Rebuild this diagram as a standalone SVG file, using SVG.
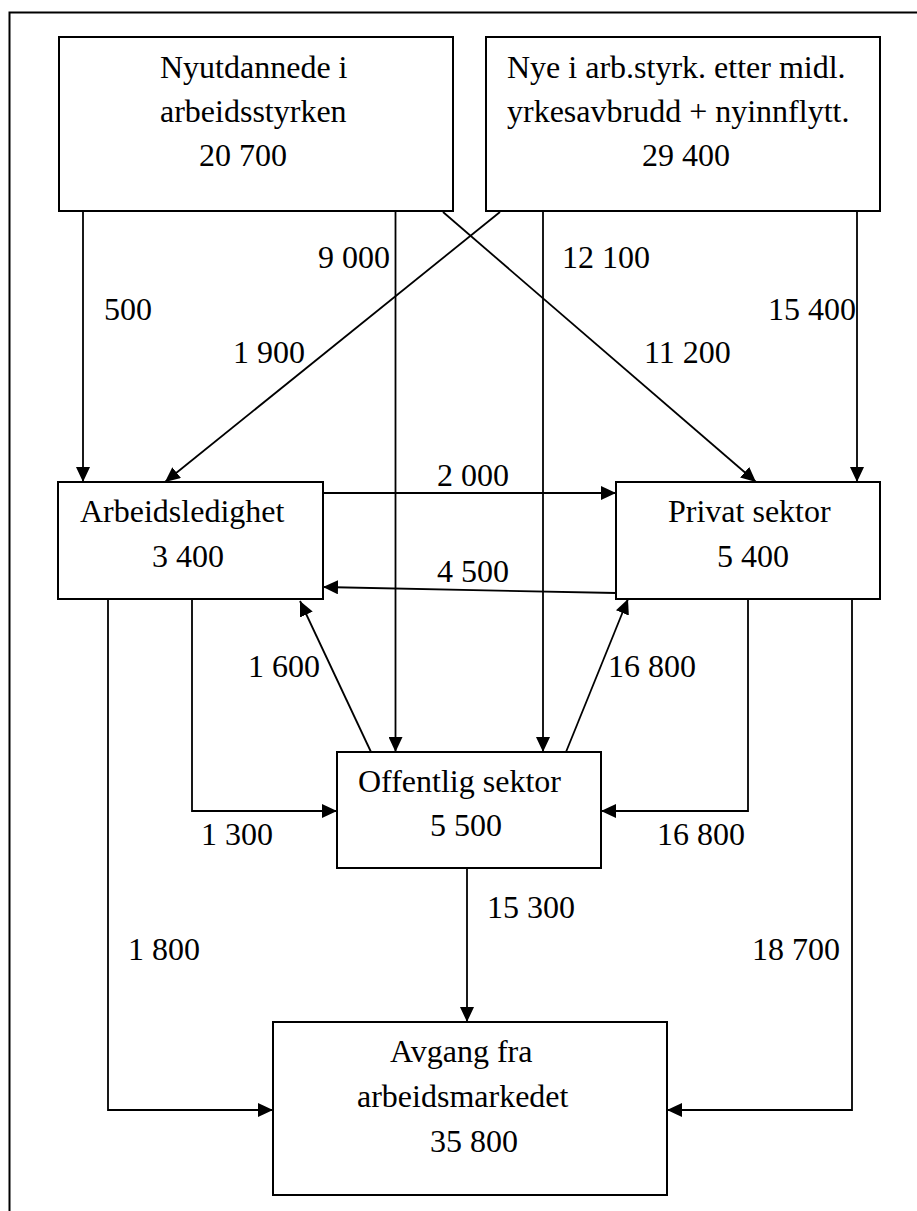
<svg xmlns="http://www.w3.org/2000/svg" width="917" height="1211" viewBox="0 0 917 1211">
<style>
.box{fill:#fff;stroke:#000;stroke-width:2}
.t{font-family:"Liberation Serif","Times New Roman",serif;font-size:32px;fill:#000}
.c{fill:none;stroke:#000;stroke-width:1.8}
</style>
<defs>
<marker id="ah" markerUnits="userSpaceOnUse" markerWidth="15" markerHeight="14" refX="15" refY="7" orient="auto">
<path d="M0,0 L15,7 L0,14 z" fill="#000"/>
</marker>
</defs>
<rect width="917" height="1211" fill="#fff"/>
<path d="M9.5,1211 V12.5 H917" fill="none" stroke="#000" stroke-width="2"/>
<g id="connectors">
<path class="c" d="M83,212 V482" marker-end="url(#ah)"/>
<path class="c" d="M395.5,212 V752" marker-end="url(#ah)"/>
<path class="c" d="M543,212 V752" marker-end="url(#ah)"/>
<path class="c" d="M857,212 V482" marker-end="url(#ah)"/>
<path class="c" d="M500,212 L165,482" marker-end="url(#ah)"/>
<path class="c" d="M443,212 L756,482" marker-end="url(#ah)"/>
<path class="c" d="M323,493 H616" marker-end="url(#ah)"/>
<path class="c" d="M616,593 L323,587" marker-end="url(#ah)"/>
<path class="c" d="M371,752 L300,601" marker-end="url(#ah)"/>
<path class="c" d="M566,752 L628,599" marker-end="url(#ah)"/>
<path class="c" d="M192,599 V811 H337" marker-end="url(#ah)"/>
<path class="c" d="M748,599 V811 H601" marker-end="url(#ah)"/>
<path class="c" d="M108,599 V1110 H273" marker-end="url(#ah)"/>
<path class="c" d="M852,599 V1110 H667" marker-end="url(#ah)"/>
<path class="c" d="M467,868 V1022" marker-end="url(#ah)"/>
<text class="t" x="104" y="320">500</text>
<text class="t" x="318" y="268">9 000</text>
<text class="t" x="562" y="268">12 100</text>
<text class="t" x="768" y="320">15 400</text>
<text class="t" x="233" y="363">1 900</text>
<text class="t" x="644" y="363">11 200</text>
<text class="t" x="437" y="486">2 000</text>
<text class="t" x="437" y="582">4 500</text>
<text class="t" x="248" y="677">1 600</text>
<text class="t" x="608" y="677">16 800</text>
<text class="t" x="201" y="845">1 300</text>
<text class="t" x="657" y="845">16 800</text>
<text class="t" x="487" y="918">15 300</text>
<text class="t" x="128" y="960">1 800</text>
<text class="t" x="752" y="960">18 700</text>
</g>
<g id="nyutdannede">
<rect class="box" x="59" y="37" width="394" height="174"/>
<text class="t" x="160" y="78">Nyutdannede i</text>
<text class="t" x="160" y="122">arbeidsstyrken</text>
<text class="t" x="199" y="166">20 700</text>
</g>
<g id="nye">
<rect class="box" x="486" y="37" width="394" height="174"/>
<text class="t" x="507" y="78">Nye i arb.styrk. etter midl.</text>
<text class="t" x="507" y="122">yrkesavbrudd + nyinnflytt.</text>
<text class="t" x="642" y="166">29 400</text>
</g>
<g id="arbeidsledighet">
<rect class="box" x="58" y="482" width="265" height="117"/>
<text class="t" x="80" y="522">Arbeidsledighet</text>
<text class="t" x="152" y="567">3 400</text>
</g>
<g id="privat">
<rect class="box" x="616" y="482" width="264" height="117"/>
<text class="t" x="668" y="522">Privat sektor</text>
<text class="t" x="717" y="567">5 400</text>
</g>
<g id="offentlig">
<rect class="box" x="337" y="752" width="264" height="116"/>
<text class="t" x="358" y="792">Offentlig sektor</text>
<text class="t" x="430" y="836">5 500</text>
</g>
<g id="avgang">
<rect class="box" x="273" y="1022" width="394" height="173"/>
<text class="t" x="390" y="1062">Avgang fra</text>
<text class="t" x="357" y="1107">arbeidsmarkedet</text>
<text class="t" x="430" y="1152">35 800</text>
</g>
</svg>
